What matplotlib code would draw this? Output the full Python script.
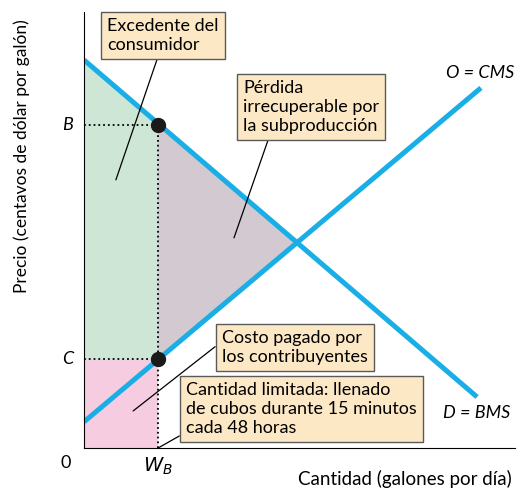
import matplotlib
matplotlib.use("Agg")
import matplotlib.pyplot as plt
import numpy as np

plt.rcParams['font.family'] = ['Lato', 'DejaVu Sans']

# curvas (unidades arbitrarias)
demand_x = [0.0, 9.12]
demand_y = [8.90, 1.17]
supply_x = [0.0, 9.21]
supply_y = [0.60, 8.26]
wb = 1.72
price_b = 7.40
price_c = 2.03
eq_x, eq_y = 4.94, 4.71

blue = '#1aaee6'
box_kw = dict(boxstyle='square,pad=0.35', fc='#fde8c6', ec='#5a5a5a', lw=1.0)

fig = plt.figure(figsize=(5.24, 4.98), dpi=100)
ax = fig.add_axes([0.1603, 0.1004, 0.8225, 0.8755])
ax.set_xlim(0, 10)
ax.set_ylim(0, 10)

# areas
ax.fill_between([0, wb], [0, 0], [price_c, price_c], color='#f6cde0', lw=0)
ax.fill_between([0, wb], [price_c, price_c], [demand_y[0], price_b], color='#cde6d6', lw=0)
ax.fill([wb, wb, eq_x], [price_c, price_b, eq_y], color='#d3c9d1', lw=0)

# lineas punteadas
ax.plot([0, wb], [price_b, price_b], ':', color='k', lw=1.3)
ax.plot([0, wb], [price_c, price_c], ':', color='k', lw=1.3)
ax.plot([wb, wb], [0, price_b], ':', color='k', lw=1.3)

ax.plot(demand_x, demand_y, color=blue, lw=3.6, solid_capstyle='butt')
ax.plot(supply_x, supply_y, color=blue, lw=3.6, solid_capstyle='butt')
ax.plot([wb, wb], [price_b, price_c], 'o', color='#1a1a1a', ms=10, zorder=5)

for s in ['top', 'right']:
    ax.spines[s].set_visible(False)
ax.set_xticks([])
ax.set_yticks([])

fs = 13
ax.text(-0.25, price_b, 'B', style='italic', ha='right', va='center', fontsize=fs)
ax.text(-0.25, price_c, 'C', style='italic', ha='right', va='center', fontsize=fs)
ax.text(-0.3, -0.35, '0', ha='right', va='center', fontsize=fs)
ax.text(wb, -0.42, '$W_B$', ha='center', va='center', fontsize=fs + 1)
ax.text(9.2, 8.6, 'O = CMS', style='italic', ha='center', va='center', fontsize=fs)
ax.text(9.1, 0.8, 'D = BMS', style='italic', ha='center', va='center', fontsize=fs)

fig.text(0.042, 0.687, 'Precio (centavos de dólar por galón)', rotation=90,
         ha='center', va='center', fontsize=12.5)
fig.text(0.977, 0.02, 'Cantidad (galones por día)', ha='right', va='bottom', fontsize=13.5)

def callout(txt, xytext, xy, relpos):
    ax.annotate(txt, xy=xy, xytext=xytext, ha='left', va='top', fontsize=fs,
                linespacing=1.22, bbox=box_kw, annotation_clip=False,
                arrowprops=dict(arrowstyle='-', color='k', lw=0.9, relpos=relpos,
                                shrinkA=0, shrinkB=0))

callout('Excedente del\nconsumidor', (0.53, 9.86), (0.74, 6.15), (0.47, 0))
callout('Pérdida\nirrecuperable por\nla subproducción', (3.69, 8.44), (3.48, 4.82), (0.2, 0))
callout('Costo pagado por\nlos contribuyentes', (3.20, 2.71), (1.14, 0.85), (0, 0.67))
callout('Cantidad limitada: llenado\nde cubos durante 15 minutos\ncada 48 horas',
        (2.37, 1.51), (wb, 0), (0, 0.07))

fig.savefig('out.png', dpi=100)
